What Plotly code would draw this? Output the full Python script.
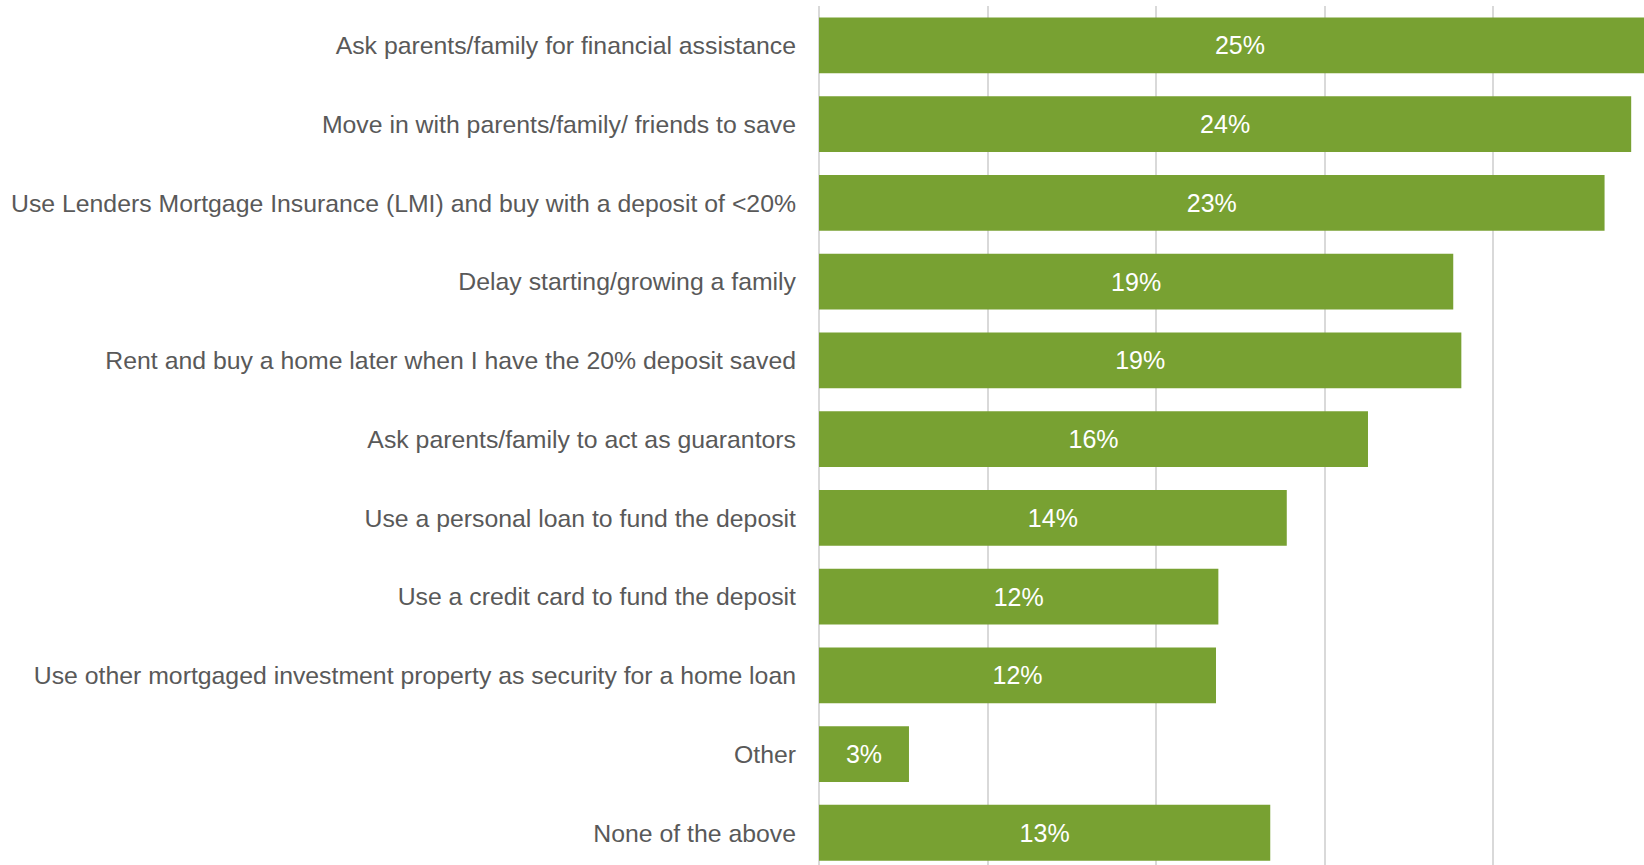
import plotly.graph_objects as go

# Survey responses: strategies for getting into the housing market (% of respondents)
categories = [
    "Ask parents/family for financial assistance",
    "Move in with parents/family/ friends to save",
    "Use Lenders Mortgage Insurance (LMI) and buy with a deposit of <20%",
    "Delay starting/growing a family",
    "Rent and buy a home later when I have the 20% deposit saved",
    "Ask parents/family to act as guarantors",
    "Use a personal loan to fund the deposit",
    "Use a credit card to fund the deposit",
    "Use other mortgaged investment property as security for a home loan",
    "Other",
    "None of the above",
]
shares = [24.98, 24.10, 23.31, 18.82, 19.06, 16.29, 13.88, 11.85, 11.78, 2.67, 13.39]

bar_green = "#78A132"
label_grey = "#595959"
grid_grey = "#D9D9D9"

fig = go.Figure(
    go.Bar(
        x=shares,
        y=categories,
        orientation="h",
        marker=dict(color=bar_green, line=dict(width=0)),
        width=0.711,
        texttemplate="%{x:.0f}%",
        textposition="inside",
        insidetextanchor="middle",
        textangle=0,
        textfont=dict(family="Liberation Sans, Arial, sans-serif", size=25, color="white"),
        cliponaxis=True,
        hoverinfo="skip",
    )
)

fig.update_layout(
    width=1644,
    height=865,
    paper_bgcolor="white",
    plot_bgcolor="white",
    margin=dict(l=819, r=0, t=6, b=0),
    showlegend=False,
    uniformtext=dict(mode="show", minsize=10),
    font=dict(family="Liberation Sans, Arial, sans-serif", color=label_grey),
)

fig.update_xaxes(
    range=[0, 24.48],
    dtick=5,
    showticklabels=False,
    showgrid=True,
    gridcolor=grid_grey,
    gridwidth=2,
    zeroline=True,
    zerolinecolor=grid_grey,
    zerolinewidth=2,
    showline=False,
    fixedrange=True,
)

fig.update_yaxes(
    type="category",
    categoryorder="array",
    categoryarray=categories,
    range=[10.408, -0.5],
    tickfont=dict(size=24.8, color=label_grey),
    ticks="",
    ticklabelstandoff=22,
    showgrid=False,
    showline=False,
    fixedrange=True,
)

fig.write_html("out.html")
